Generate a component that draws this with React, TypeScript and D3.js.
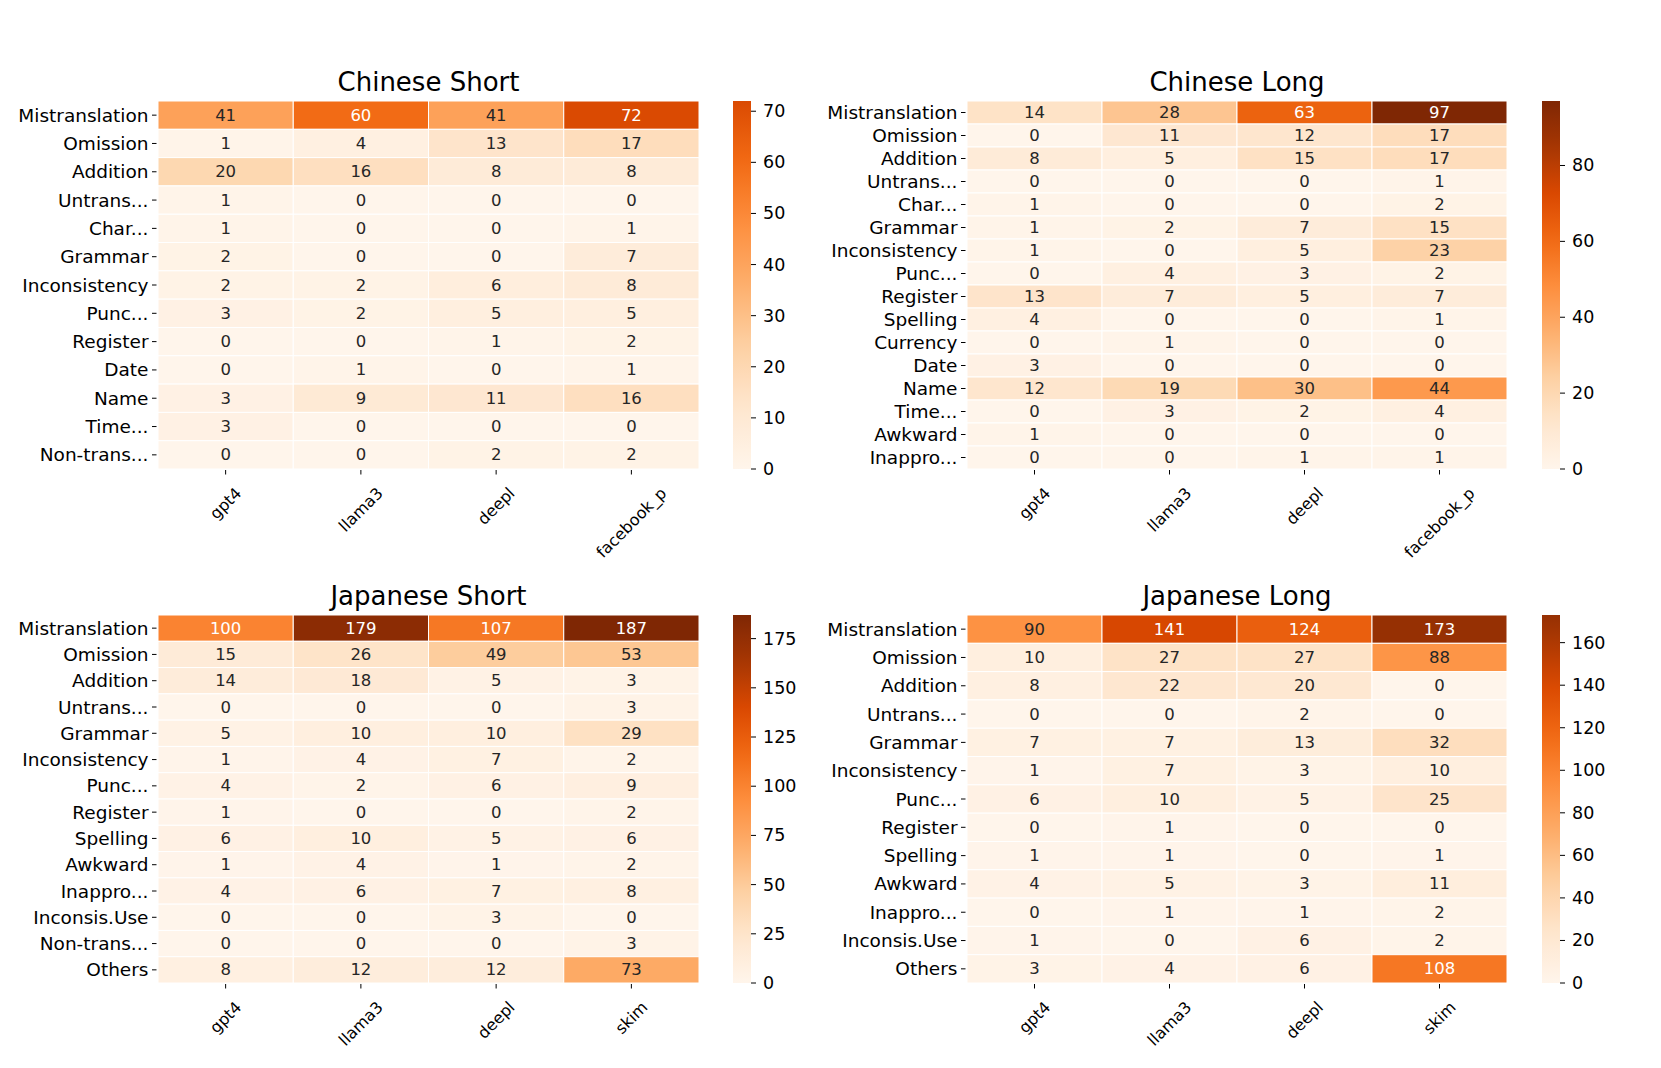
import React from "react";
import * as d3 from "d3";

// matplotlib "Oranges" anchor colours
const oranges = ["#fff5eb", "#fee6ce", "#fdd0a2", "#fdae6b", "#fd8d3c", "#f16913", "#d94801", "#a63603", "#7f2704"];

const zhModels = ["gpt4", "llama3", "deepl", "facebook_p"];
const jaModels = ["gpt4", "llama3", "deepl", "skim"];

const zhShortRows = ["Mistranslation", "Omission", "Addition", "Untrans...", "Char...", "Grammar", "Inconsistency", "Punc...", "Register", "Date", "Name", "Time...", "Non-trans..."];
const zhShortVals = [
  [41, 1, 20, 1, 1, 2, 2, 3, 0, 0, 3, 3, 0],
  [60, 4, 16, 0, 0, 0, 2, 2, 0, 1, 9, 0, 0],
  [41, 13, 8, 0, 0, 0, 6, 5, 1, 0, 11, 0, 2],
  [72, 17, 8, 0, 1, 7, 8, 5, 2, 1, 16, 0, 2],
];
const zhShortTicks = [0, 10, 20, 30, 40, 50, 60, 70];

const zhLongRows = ["Mistranslation", "Omission", "Addition", "Untrans...", "Char...", "Grammar", "Inconsistency", "Punc...", "Register", "Spelling", "Currency", "Date", "Name", "Time...", "Awkward", "Inappro..."];
const zhLongVals = [
  [14, 0, 8, 0, 1, 1, 1, 0, 13, 4, 0, 3, 12, 0, 1, 0],
  [28, 11, 5, 0, 0, 2, 0, 4, 7, 0, 1, 0, 19, 3, 0, 0],
  [63, 12, 15, 0, 0, 7, 5, 3, 5, 0, 0, 0, 30, 2, 0, 1],
  [97, 17, 17, 1, 2, 15, 23, 2, 7, 1, 0, 0, 44, 4, 0, 1],
];
const zhLongTicks = [0, 20, 40, 60, 80];

const jaShortRows = ["Mistranslation", "Omission", "Addition", "Untrans...", "Grammar", "Inconsistency", "Punc...", "Register", "Spelling", "Awkward", "Inappro...", "Inconsis.Use", "Non-trans...", "Others"];
const jaShortVals = [
  [100, 15, 14, 0, 5, 1, 4, 1, 6, 1, 4, 0, 0, 8],
  [179, 26, 18, 0, 10, 4, 2, 0, 10, 4, 6, 0, 0, 12],
  [107, 49, 5, 0, 10, 7, 6, 0, 5, 1, 7, 3, 0, 12],
  [187, 53, 3, 3, 29, 2, 9, 2, 6, 2, 8, 0, 3, 73],
];
const jaShortTicks = [0, 25, 50, 75, 100, 125, 150, 175];

const jaLongRows = ["Mistranslation", "Omission", "Addition", "Untrans...", "Grammar", "Inconsistency", "Punc...", "Register", "Spelling", "Awkward", "Inappro...", "Inconsis.Use", "Others"];
const jaLongVals = [
  [90, 10, 8, 0, 7, 1, 6, 0, 1, 4, 0, 1, 3],
  [141, 27, 22, 0, 7, 7, 10, 1, 1, 5, 1, 0, 4],
  [124, 27, 20, 2, 13, 3, 5, 0, 0, 3, 1, 6, 6],
  [173, 88, 0, 0, 32, 10, 25, 0, 1, 11, 2, 2, 108],
];
const jaLongTicks = [0, 20, 40, 60, 80, 100, 120, 140, 160];

const FONT = "DejaVu Sans, sans-serif";

let ctx: CanvasRenderingContext2D | null = null;
function textWidth(s: string, size: number) {
  if (!ctx) ctx = document.createElement("canvas").getContext("2d");
  if (!ctx) return s.length * size * 0.6;
  ctx.font = `${size}px "DejaVu Sans"`;
  return ctx.measureText(s).width;
}

// seaborn picks white text on dark cells
function luminance(c: string) {
  const rgb = d3.rgb(c);
  const lin = (v: number) => {
    v = v / 255;
    return v <= 0.03928 ? v / 12.92 : Math.pow((v + 0.055) / 1.055, 2.4);
  };
  return 0.2126 * lin(rgb.r) + 0.7152 * lin(rgb.g) + 0.0722 * lin(rgb.b);
}

function Heatmap({ id, title, rows, cols, vals, normMax, ticks, hx, hy, hw, hh, cbX }: any) {
  const cbW = 18;
  const color = d3
    .scaleLinear<string>()
    .domain(oranges.map((_, i) => (i / (oranges.length - 1)) * normMax))
    .range(oranges)
    .interpolate(d3.interpolateRgb)
    .clamp(true);

  const x = d3.scaleBand().domain(cols).range([hx, hx + hw]);
  const y = d3.scaleBand().domain(rows).range([hy, hy + hh]);
  const localMax = d3.max(vals.flat() as number[]) as number;
  const cb = d3.scaleLinear().domain([0, localMax]).range([hy + hh, hy]);
  const stops = d3.range(0, 21).map((i) => i / 20);

  return (
    <g>
      <defs>
        <linearGradient id={id} x1="0" y1="1" x2="0" y2="0">
          {stops.map((t) => (
            <stop key={t} offset={t} stopColor={color(t * localMax)} />
          ))}
        </linearGradient>
      </defs>
      <text x={hx + hw / 2} y={hy - 10} textAnchor="middle" fontSize={26} fontFamily={FONT}>
        {title}
      </text>
      {cols.map((c: string, ci: number) =>
        rows.map((r: string, ri: number) => {
          const v = vals[ci][ri];
          const fill = color(v);
          return (
            <g key={c + r}>
              <rect x={x(c)} y={y(r)} width={x.bandwidth()} height={y.bandwidth()} fill={fill} stroke="#fff" strokeWidth={1} />
              <text
                x={(x(c) as number) + x.bandwidth() / 2}
                y={(y(r) as number) + y.bandwidth() / 2}
                textAnchor="middle"
                dominantBaseline="central"
                fontSize={16.5}
                fontFamily={FONT}
                fill={luminance(fill) > 0.408 ? "#262626" : "#ffffff"}
              >
                {v}
              </text>
            </g>
          );
        })
      )}
      {rows.map((r: string) => {
        const cy = (y(r) as number) + y.bandwidth() / 2;
        return (
          <g key={"yl" + r}>
            <line x1={hx - 6} x2={hx - 1.5} y1={cy} y2={cy} stroke="#000" strokeWidth={1} />
            <text x={hx - 9.5} y={cy} textAnchor="end" dominantBaseline="central" fontSize={18.5} fontFamily={FONT}>
              {r}
            </text>
          </g>
        );
      })}
      {cols.map((c: string) => {
        const cx = (x(c) as number) + x.bandwidth() / 2;
        const w = textWidth(c, 16);
        const cy = hy + hh + 15 + (w + 18) * 0.354;
        return (
          <g key={"xl" + c}>
            <line x1={cx} x2={cx} y1={hy + hh + 1} y2={hy + hh + 5.5} stroke="#000" strokeWidth={1} />
            <text
              x={cx}
              y={cy}
              textAnchor="middle"
              dominantBaseline="central"
              fontSize={16}
              fontFamily={FONT}
              transform={`rotate(-45 ${cx} ${cy})`}
            >
              {c}
            </text>
          </g>
        );
      })}
      <rect x={cbX} y={hy} width={cbW} height={hh} fill={`url(#${id})`} />
      {ticks.map((t: number) => (
        <g key={"cb" + t}>
          <line x1={cbX + cbW} x2={cbX + cbW + 5} y1={cb(t)} y2={cb(t)} stroke="#000" strokeWidth={1} />
          <text x={cbX + cbW + 12} y={cb(t)} dominantBaseline="central" fontSize={17.5} fontFamily={FONT}>
            {t}
          </text>
        </g>
      ))}
    </g>
  );
}

export default function App() {
  return (
    <svg width={1661} height={1068} style={{ position: "absolute", left: 0, top: 0, display: "block", background: "#fff" }}>
      <Heatmap id="g1" title="Chinese Short" rows={zhShortRows} cols={zhModels} vals={zhShortVals} normMax={97} ticks={zhShortTicks} hx={158} hy={101} hw={541} hh={368} cbX={733} />
      <Heatmap id="g2" title="Chinese Long" rows={zhLongRows} cols={zhModels} vals={zhLongVals} normMax={97} ticks={zhLongTicks} hx={967} hy={101} hw={540} hh={368} cbX={1542} />
      <Heatmap id="g3" title="Japanese Short" rows={jaShortRows} cols={jaModels} vals={jaShortVals} normMax={187} ticks={jaShortTicks} hx={158} hy={615} hw={541} hh={368} cbX={733} />
      <Heatmap id="g4" title="Japanese Long" rows={jaLongRows} cols={jaModels} vals={jaLongVals} normMax={187} ticks={jaLongTicks} hx={967} hy={615} hw={540} hh={368} cbX={1542} />
    </svg>
  );
}
